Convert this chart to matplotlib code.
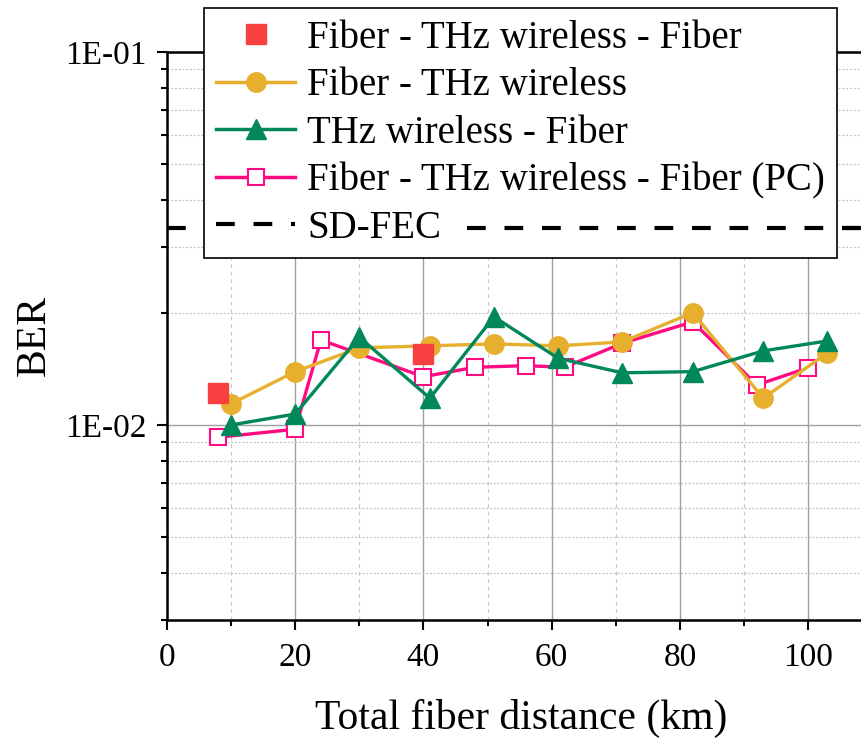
import matplotlib
matplotlib.use("Agg")
import matplotlib.pyplot as plt
from matplotlib.ticker import LogLocator, FixedLocator, NullFormatter, FuncFormatter
from matplotlib.transforms import Bbox
from matplotlib.lines import Line2D

plt.rcParams['font.family'] = ['Liberation Serif', 'DejaVu Serif']

# ---- data ----
red_x = [8, 40]
red_y = [0.0122, 0.0155]

ft_x = [10, 20, 30, 41, 51, 61, 71, 82, 93, 103]
ft_y = [0.0114, 0.0139, 0.0161, 0.0163, 0.0165, 0.0163, 0.0167, 0.0200, 0.0118, 0.0156]

tf_x = [10, 20, 30, 41, 51, 61, 71, 82, 93, 103]
tf_y = [0.0100, 0.0107, 0.0172, 0.0118, 0.0195, 0.0151, 0.0138, 0.0139, 0.0158, 0.0168]

pc_x = [8, 20, 24, 40, 48, 56, 62, 71, 82, 92, 100]
pc_y = [0.00927, 0.00974, 0.0169, 0.01347, 0.01428, 0.01442, 0.01428, 0.01656, 0.0189, 0.0128, 0.01424]

sdfec = 0.0338

labels = ["Fiber - THz wireless - Fiber", "Fiber - THz wireless",
          "THz wireless - Fiber", "Fiber - THz wireless - Fiber (PC)", "SD-FEC"]
xticks = [0, 20, 40, 60, 80, 100]
yticks = [1e-2, 1e-1]
ytick_labels = ["1E-02", "1E-01"]

# ---- colors ----
c_red = '#F94040'
c_yel = '#E6AF2E'
c_grn = '#00875A'
c_pnk = '#FF0A80'

fig = plt.figure(figsize=(8.62, 7.39), dpi=100)
ax = fig.add_axes([167/862, 1-620/739, 1-167/862, (620-52)/739])

ax.set_yscale('log')
ax.set_xlim(0, 108.4)
ax.set_ylim(3e-3, 1e-1)

# gridlines
ax.set_axisbelow(True)
ax.xaxis.set_major_locator(FixedLocator(xticks))
ax.xaxis.set_minor_locator(FixedLocator([10, 30, 50, 70, 90, 110]))
ax.yaxis.set_major_locator(FixedLocator(yticks))
ax.yaxis.set_major_formatter(FuncFormatter(lambda v, p: ytick_labels[yticks.index(v)] if v in yticks else ""))
ax.yaxis.set_minor_locator(LogLocator(base=10, subs=range(2, 10)))
ax.yaxis.set_minor_formatter(NullFormatter())

ax.grid(which='major', axis='x', color='#A0A0A0', lw=1.0, ls='-')
ax.grid(which='minor', axis='x', color='#C8C8C8', lw=0.9, ls=(0, (3, 3)))
ax.grid(which='major', axis='y', color='#A0A0A0', lw=1.0, ls='-')
ax.grid(which='minor', axis='y', color='#C0C0C0', lw=0.9, ls=(0, (1.5, 1.5)))

# SD-FEC line (below legend)
ax.axhline(sdfec, color='black', lw=3, dashes=(4.5, 4.5), zorder=2.0)

ax.plot(pc_x, pc_y, color=c_pnk, lw=2.4, marker='s', ms=11.5, mfc='white',
        mec=c_pnk, mew=1.5, zorder=3, label=labels[3])
ax.plot(ft_x, ft_y, color=c_yel, lw=2.4, marker='o', ms=14, mfc=c_yel,
        mec=c_yel, zorder=4, label=labels[1])
ax.plot(tf_x, tf_y, color=c_grn, lw=2.4, marker='^', ms=15, mfc=c_grn,
        mec=c_grn, zorder=5, label=labels[2])
ax.plot(red_x, red_y, ls='none', marker='s', ms=14, mfc=c_red, mec=c_red,
        zorder=6, label=labels[0])

# spines and ticks
for s in ['left', 'bottom', 'top']:
    ax.spines[s].set_linewidth(1.8)
ax.spines['right'].set_visible(False)
ax.tick_params(which='major', direction='out', length=7.5, width=1.5,
               labelsize=24, top=False, right=False)
ax.tick_params(which='minor', direction='out', length=4, width=1.5,
               top=False, right=False)
ax.tick_params(axis='x', which='major', pad=8.5)
ax.tick_params(axis='y', which='major', pad=7)

ax.set_xlabel("Total fiber distance (km)", fontsize=30, labelpad=19)
ax.set_ylabel("BER", fontsize=30, labelpad=8)
ax.xaxis.label.set_x(0.5 + 7/695)

# legend
handles = [
    Line2D([], [], ls='none', marker='s', ms=14, mfc=c_red, mec=c_red),
    Line2D([], [], color=c_yel, lw=2.5, marker='o', ms=14, mfc=c_yel, mec=c_yel),
    Line2D([], [], color=c_grn, lw=2.5, marker='^', ms=15, mfc=c_grn, mec=c_grn),
    Line2D([], [], color=c_pnk, lw=2.5, marker='s', ms=11.5, mfc='white', mec=c_pnk, mew=1.5),
    Line2D([], [], color='black', lw=3, dashes=(4.5, 4.5)),
]
leg = ax.legend(handles, labels, loc='upper left',
                bbox_to_anchor=(204/862, 1-8/739), bbox_transform=fig.transFigure,
                borderaxespad=0, fontsize=28, labelspacing=0.27, handlelength=2.05,
                handletextpad=0.3, borderpad=0.3, frameon=True, fancybox=False,
                edgecolor='black', framealpha=1.0)
leg.get_frame().set_linewidth(1.2)
leg.set_zorder(2.6)

# upper copy of SD-FEC line, visible right of the legend text
fig.canvas.draw()
tb = leg.get_texts()[4].get_window_extent()
axb = ax.get_window_extent()
top_line = ax.axhline(sdfec, color='black', lw=3, dashes=(4.5, 4.5), zorder=2.7)
top_line.set_clip_box(Bbox([[tb.x1 + 10, axb.y0], [axb.x1, axb.y1]]))
top_line.set_clip_path(None)

fig.savefig("out.png", dpi=100)
